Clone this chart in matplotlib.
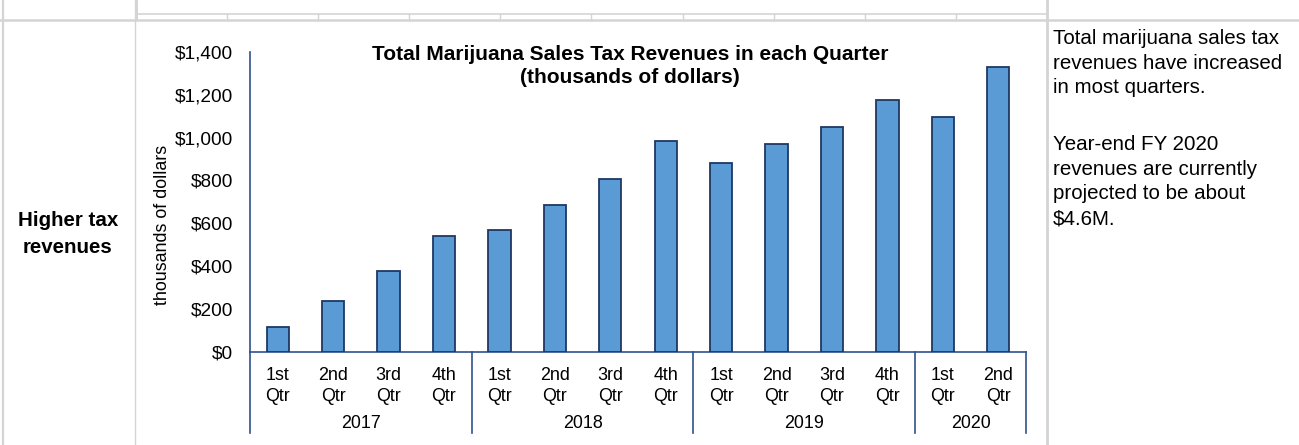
import numpy as np
import matplotlib
matplotlib.use("Agg")
from matplotlib import pyplot as plt
from matplotlib.lines import Line2D
import matplotlib.transforms as mtransforms

# -----------------------------
# DATA
# -----------------------------
quarters = ["1st\nQtr", "2nd\nQtr", "3rd\nQtr", "4th\nQtr"] * 3 + ["1st\nQtr", "2nd\nQtr"]
years = ["2017", "2018", "2019", "2020"]
year_sizes = [4, 4, 4, 2]
revenues = [115, 234, 375, 540, 570, 685, 808, 982, 882, 970, 1048, 1175, 1094, 1328]
yticks = [0, 200, 400, 600, 800, 1000, 1200, 1400]
ytick_labels = ["$0", "$200", "$400", "$600", "$800", "$1,000", "$1,200", "$1,400"]

title = "Total Marijuana Sales Tax Revenues in each Quarter\n(thousands of dollars)"
row_label = "Higher tax\nrevenues"
note_1 = "Total marijuana sales tax\nrevenues have increased\nin most quarters."
note_2 = "Year-end FY 2020\nrevenues are currently\nprojected to be about\n$4.6M."

# -----------------------------
# SETTINGS
# -----------------------------
plt.rcParams['font.family'] = ['Liberation Sans', 'DejaVu Sans']
W, H = 1299, 445
bar_color = "#5B9BD5"
edge_color = "#1F3864"
axis_color = "#2F528F"
grid_color = "#D4D4D4"

fig = plt.figure(figsize=(W / 100, H / 100), dpi=100)

def px(x, y):
    # pixel coords (from top-left) -> figure fraction
    return x / W, 1 - y / H

def fig_line(x0, y0, x1, y1, lw=1.5, color=grid_color):
    (a, b), (c, d) = px(x0, y0), px(x1, y1)
    fig.add_artist(Line2D([a, c], [b, d], transform=fig.transFigure, color=color, lw=lw))

# table grid
fig_line(2.5, 0, 2.5, H, lw=1.6)
fig_line(135, 0, 135, H, lw=1.0)
fig_line(137, 0, 137, 20, lw=1.4)
fig_line(1046.5, 0, 1046.5, H, lw=2.0)
fig_line(0, 20, W, 20, lw=1.8)
fig_line(137, 14, 1046, 14, lw=1.2)
for x in np.arange(226.5, 1000, 91.2):
    fig_line(x, 14, x, 20, lw=1.0)

# chart axes
left, top, right, bottom = 250, 52, 1026, 351.5
l, b = px(left, bottom)
ax = fig.add_axes([l, b, (right - left) / W, (bottom - top) / H])

x = np.arange(len(revenues))
ax.bar(x, revenues, width=0.4, color=bar_color, edgecolor=edge_color, linewidth=1.3, zorder=3)
ax.set_xlim(-0.5, len(revenues) - 0.5)
ax.set_ylim(0, 1400)
ax.set_yticks(yticks)
ax.set_yticklabels(ytick_labels)
ax.set_xticks(x)
ax.set_xticklabels(quarters, linespacing=1.3)
ax.tick_params(axis="y", length=0, pad=12, labelsize=13.7)
ax.tick_params(axis="x", length=0, pad=11, labelsize=12.9)
for s in ["top", "right"]:
    ax.spines[s].set_visible(False)
for s in ["left", "bottom"]:
    ax.spines[s].set_color(axis_color)
    ax.spines[s].set_linewidth(1.2)

ax.set_ylabel("thousands of dollars", fontsize=12.9)
ax.yaxis.set_label_coords(-(250 - 171) / (right - left), (351.5 - 225) / (bottom - top))

# year groups and dividers below the axis
trans = mtransforms.blended_transform_factory(ax.transData, ax.transAxes)
depth = -(432.5 - bottom) / (bottom - top)
year_y = -(423 - bottom) / (bottom - top)
edges = np.concatenate([[0], np.cumsum(year_sizes)]) - 0.5
for e in edges:
    ax.plot([e, e], [0, depth], transform=trans, color=axis_color, lw=1.2, clip_on=False)
for yr, a, c in zip(years, edges[:-1], edges[1:]):
    ax.text((a + c) / 2, year_y, yr, transform=trans, ha="center", va="center", fontsize=12.9)

ax.text(0.49, (bottom - 66) / (bottom - top), title, transform=ax.transAxes,
        ha="center", va="center", fontsize=15, fontweight="bold", linespacing=1.3)

# side texts
fig.text(*px(68, 234), row_label, ha="center", va="center", fontsize=14.8,
         fontweight="bold", linespacing=1.55)
fig.text(*px(1053, 29), note_1, ha="left", va="top", fontsize=14.8, linespacing=1.38)
fig.text(*px(1053, 135), note_2, ha="left", va="top", fontsize=14.8, linespacing=1.38)

fig.savefig("out.png", dpi=100)
